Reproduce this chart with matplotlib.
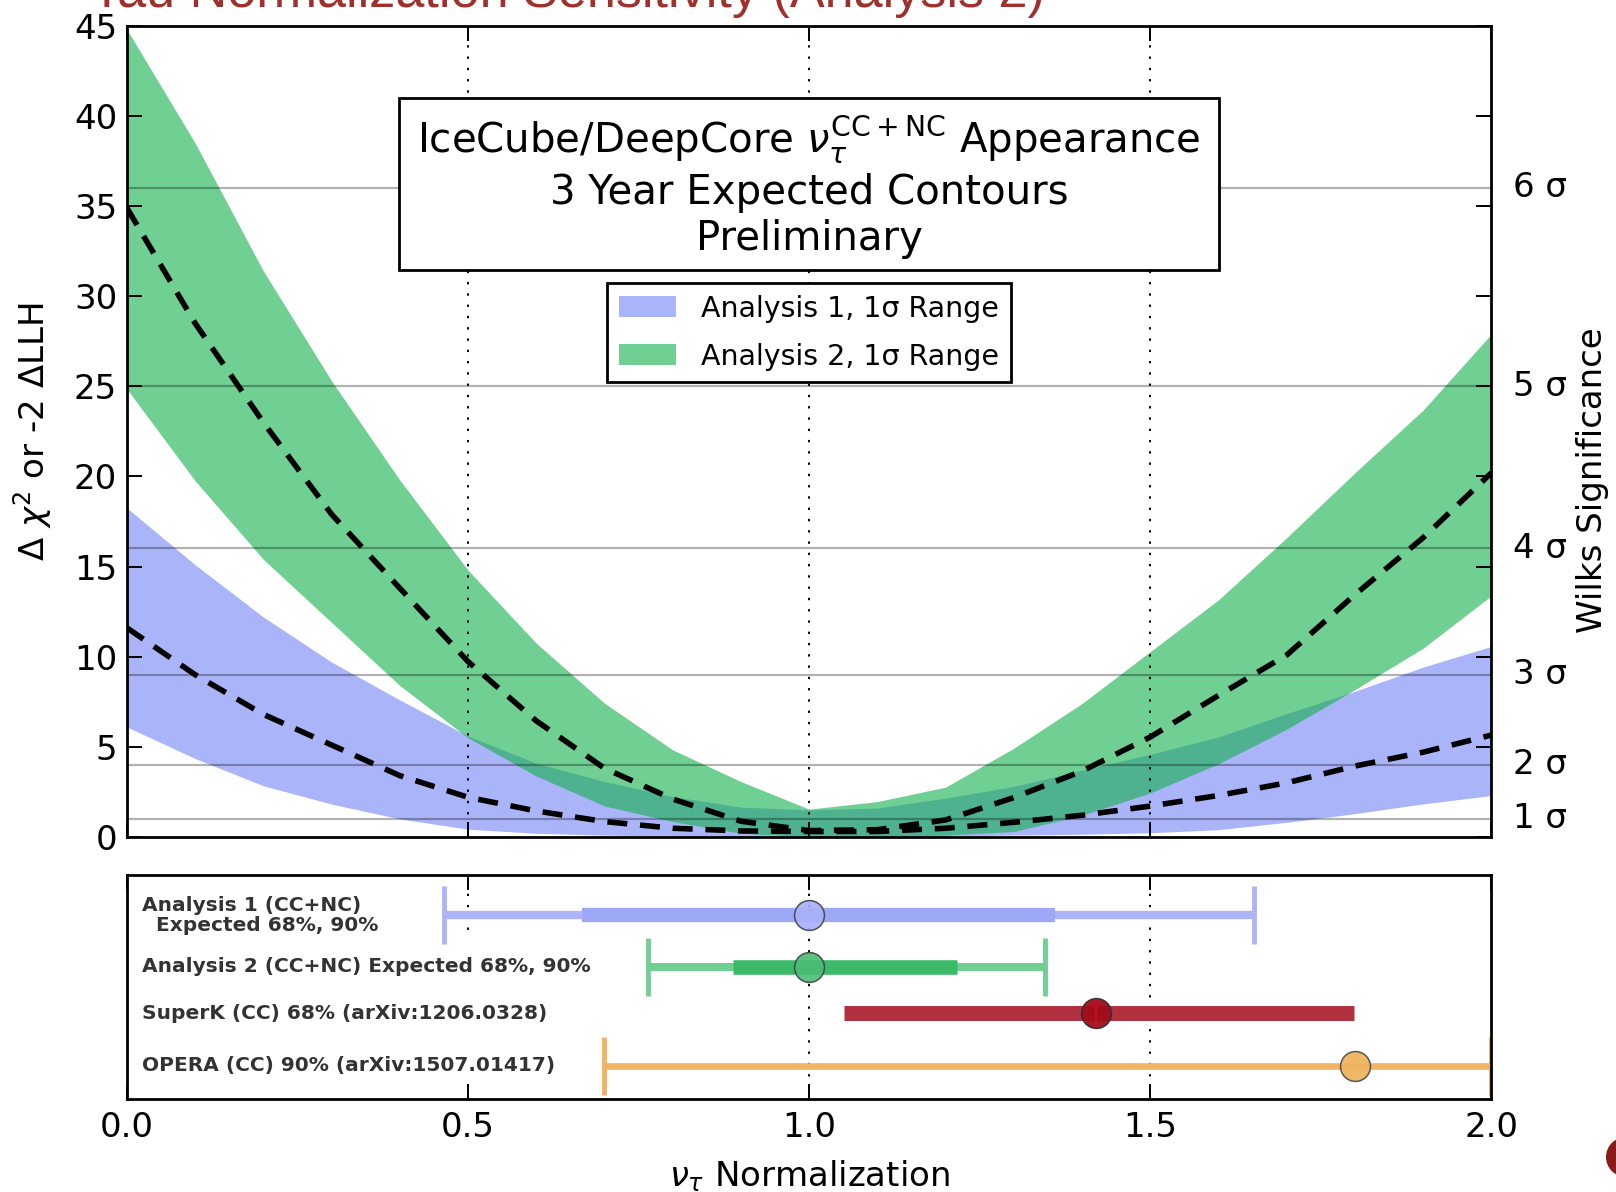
import matplotlib
matplotlib.use('Agg')
import matplotlib.pyplot as plt
from matplotlib.patches import Rectangle, Patch, Circle

# ---------------- data (top panel) ----------------
x_norm = [0.0, 0.1, 0.2, 0.3, 0.4, 0.5, 0.6, 0.7, 0.8, 0.9, 1.0,
          1.1, 1.2, 1.3, 1.4, 1.5, 1.6, 1.7, 1.8, 1.9, 2.0]

a1_hi = [18.25, 15.1, 12.2, 9.7, 7.6, 5.6, 4.09, 3.07, 2.24, 1.65, 1.5,
         1.6, 2.15, 2.8, 3.7, 4.58, 5.54, 6.84, 8.08, 9.42, 10.57]
a1_lo = [6.1, 4.35, 2.84, 1.82, 1.0, 0.43, 0.2, 0.1, 0.05, 0.02, 0.0,
         0.02, 0.05, 0.1, 0.15, 0.23, 0.4, 0.81, 1.29, 1.83, 2.3]
a1_best = [11.6, 9.0, 6.8, 5.1, 3.4, 2.2, 1.44, 0.85, 0.48, 0.33, 0.3,
           0.3, 0.48, 0.81, 1.2, 1.71, 2.3, 3.0, 3.93, 4.7, 5.65]

a2_hi = [44.8, 38.5, 31.4, 25.3, 19.8, 14.8, 10.75, 7.42, 4.83, 3.07, 1.54,
         1.96, 2.76, 4.92, 7.4, 10.28, 13.15, 16.6, 20.2, 23.68, 27.9]
a2_lo = [24.85, 19.76, 15.4, 11.9, 8.4, 5.5, 3.38, 1.72, 0.85, 0.2, 0.02,
         0.02, 0.1, 0.3, 1.2, 2.44, 4.06, 5.98, 8.17, 10.47, 13.38]
a2_best = [34.9, 28.5, 23.0, 17.9, 13.8, 9.73, 6.44, 3.81, 2.1, 0.87, 0.35,
           0.4, 0.94, 2.18, 3.65, 5.54, 7.85, 10.09, 13.44, 16.6, 20.2]

sigma_dchi2 = [1, 4, 9, 16, 25, 36]
sigma_labels = ['1 σ', '2 σ', '3 σ', '4 σ', '5 σ', '6 σ']
ref_lines = [0.5, 1.0, 1.5]

y_ticks = [0, 5, 10, 15, 20, 25, 30, 35, 40, 45]
x_ticks = [0.0, 0.5, 1.0, 1.5, 2.0]
x_ticklabels = ['0.0', '0.5', '1.0', '1.5', '2.0']

# ---------------- data (bottom panel) ----------------
row_labels = ['Analysis 1 (CC+NC)\n  Expected 68%, 90%',
              'Analysis 2 (CC+NC) Expected 68%, 90%',
              'SuperK (CC) 68% (arXiv:1206.0328)',
              'OPERA (CC) 90% (arXiv:1507.01417)']
a1_center, a1_68, a1_90 = 1.0, (0.667, 1.36), (0.465, 1.652)
a2_center, a2_68, a2_90 = 1.0, (0.889, 1.216), (0.764, 1.345)
sk_center, sk_68 = 1.42, (1.051, 1.798)
op_center, op_90 = 1.80, (0.699, 2.0)

# row positions in the lower panel (layout)
row_y = [3.55, 2.55, 1.65, 0.64]

# ---------------- figure ----------------
fig = plt.figure(figsize=(16.16, 11.92), dpi=100)
ax = fig.add_axes([0.0785, 0.2979, 0.8444, 0.6805])
axb = fig.add_axes([0.0785, 0.0784, 0.8444, 0.1875])

FS = 24.5
blue = '#aab4f8'
green_raw = '#11af49'

ax.fill_between(x_norm, a1_lo, a1_hi, color=blue, lw=0, zorder=1)
ax.fill_between(x_norm, a2_lo, a2_hi, color=green_raw, alpha=0.6, lw=0, zorder=1.1)

for v in sigma_dchi2:
    ax.axhline(v, color='k', alpha=0.3, lw=1.6, zorder=2)
for v in ref_lines:
    ax.axvline(v, color='k', lw=1.4, ls=(0, (1.2, 4.6)), zorder=2)

ax.plot(x_norm, a2_best, color='k', lw=4, dashes=(3.6, 2.3), zorder=3)
ax.plot(x_norm, a1_best, color='k', lw=4, dashes=(3.6, 2.3), zorder=3)

ax.set_xlim(0, 2)
ax.set_ylim(0, 45)
ax.set_yticks(y_ticks)
ax.set_yticklabels([str(t) for t in y_ticks])
ax.set_xticks(x_ticks)
ax.tick_params(axis='both', direction='in', length=11, width=1.4,
               labelsize=FS, top=True, right=True, pad=7)
ax.tick_params(axis='x', labelbottom=False)
for s in ax.spines.values():
    s.set_linewidth(2)
ax.set_ylabel(r'$\Delta\ \chi^2$ or -2 $\Delta$LLH', fontsize=FS, labelpad=14)

# right-side sigma labels
ytr = ax.get_yaxis_transform()
for v, lab in zip(sigma_dchi2, sigma_labels):
    ax.text(1.0159, v, lab, transform=ytr, fontsize=FS, ha='left', va='center')
ax.text(1.0739, 0.44, 'Wilks Significance', transform=ax.transAxes, fontsize=FS,
        rotation=90, ha='center', va='center')

# annotation box
ax.add_patch(Rectangle((0.1995, 0.699), 0.6009, 0.2116, transform=ax.transAxes,
                       facecolor='white', edgecolor='black', lw=2, zorder=5))
ax.text(0.5, 0.8428, r'IceCube/DeepCore $\nu_{\tau}^{\mathrm{CC+NC}}$ Appearance',
        transform=ax.transAxes, fontsize=29, ha='center', va='baseline', zorder=6)
ax.text(0.5, 0.780, '3 Year Expected Contours', transform=ax.transAxes,
        fontsize=29, ha='center', va='baseline', zorder=6)
ax.text(0.5, 0.7236, 'Preliminary', transform=ax.transAxes,
        fontsize=29, ha='center', va='baseline', zorder=6)

handles = [Patch(facecolor=blue, edgecolor='none', label='Analysis 1, 1σ Range'),
           Patch(facecolor=green_raw, alpha=0.6, edgecolor='none', label='Analysis 2, 1σ Range')]
leg = ax.legend(handles=handles, loc='upper center', bbox_to_anchor=(0.5, 0.6833),
                fontsize=20.5, frameon=True, fancybox=False, borderaxespad=0,
                borderpad=0.42, handlelength=2.0, handleheight=0.74,
                handletextpad=0.88, labelspacing=0.7, framealpha=1)
leg.get_frame().set_edgecolor('black')
leg.get_frame().set_linewidth(2)
leg.set_zorder(7)

# ---------------- bottom panel ----------------
for v in ref_lines:
    axb.axvline(v, color='k', lw=1.4, ls=(0, (1.2, 4.6)), zorder=1)

# Analysis 1
y = row_y[0]
axb.errorbar([a1_center], [y], xerr=[[a1_center - a1_90[0]], [a1_90[1] - a1_center]],
             fmt='none', ecolor='#adb5fa', elinewidth=6, capsize=21, capthick=3.5, zorder=2)
axb.plot(a1_68, [y, y], color='#9da8f7', lw=10.3, solid_capstyle='butt', zorder=3)
axb.plot([a1_center], [y], 'o', ms=21.5, mfc='#a8b0f8', mec='#404040', mew=1.1,
         alpha=0.9, zorder=4)

# Analysis 2
y = row_y[1]
axb.errorbar([a2_center], [y], xerr=[[a2_center - a2_90[0]], [a2_90[1] - a2_center]],
             fmt='none', ecolor='#72cf93', elinewidth=5.8, capsize=21, capthick=3.5, zorder=2)
axb.plot(a2_68, [y, y], color='#3cba68', lw=10.5, solid_capstyle='butt', zorder=3)
axb.plot([a2_center], [y], 'o', ms=21.5, mfc='#4cbd74', mec='#404040', mew=1.1,
         alpha=0.9, zorder=4)

# SuperK
y = row_y[2]
axb.plot(sk_68, [y, y], color='#b23140', lw=10.8, solid_capstyle='butt', zorder=3)
axb.plot([sk_center], [y], 'o', ms=21.5, mfc='#a30c1c', mec='#303030', mew=1.1,
         alpha=0.95, zorder=4)
axb.plot([sk_center], [y], '|', ms=20, mew=1.5, color='#c0101e', zorder=5)

# OPERA
y = row_y[3]
axb.errorbar([op_center], [y], xerr=[[op_center - op_90[0]], [op_90[1] - op_center]],
             fmt='none', ecolor='#f2b362', elinewidth=4.8, capsize=21, capthick=3.5, zorder=2)
axb.plot([op_center], [y], 'o', ms=21.5, mfc='#f0b35f', mec='#505050', mew=1.1,
         alpha=0.95, zorder=4)

for i, (y, lab) in enumerate(zip(row_y, row_labels)):
    pad = 0.4 if i == 0 else 1.0
    axb.text(0.022, y, lab, fontsize=14.5, fontweight='bold', color='#333333',
             ha='left', va='center', linespacing=1.08, zorder=1.5,
             bbox=dict(facecolor='white', edgecolor='none',
                       boxstyle='square,pad=%.2f' % pad))

axb.set_xlim(0, 2)
axb.set_ylim(0, 4.33)
axb.set_yticks([])
axb.set_xticks(x_ticks)
axb.set_xticklabels(x_ticklabels)
axb.tick_params(axis='x', direction='in', length=11, width=1.4, labelsize=FS,
                top=True, pad=9)
for s in axb.spines.values():
    s.set_linewidth(2)
    s.set_zorder(8)
axb.set_xlabel(r'$\nu_{\tau}$ Normalization', fontsize=FS, labelpad=10)

# clipped title and logo at figure edges
fig.text(0.0563, 1 - 7 / 1192, 'Tau Normalization Sensitivity (Analysis 2)',
         fontsize=37.5, family='Liberation Sans', color='#a0302c',
         ha='left', va='baseline')
fig.add_artist(Circle((16.26, 0.35), 0.2, transform=fig.dpi_scale_trans,
                      facecolor='#8b1a1a', edgecolor='none'))

fig.savefig('out.png', dpi=100)
